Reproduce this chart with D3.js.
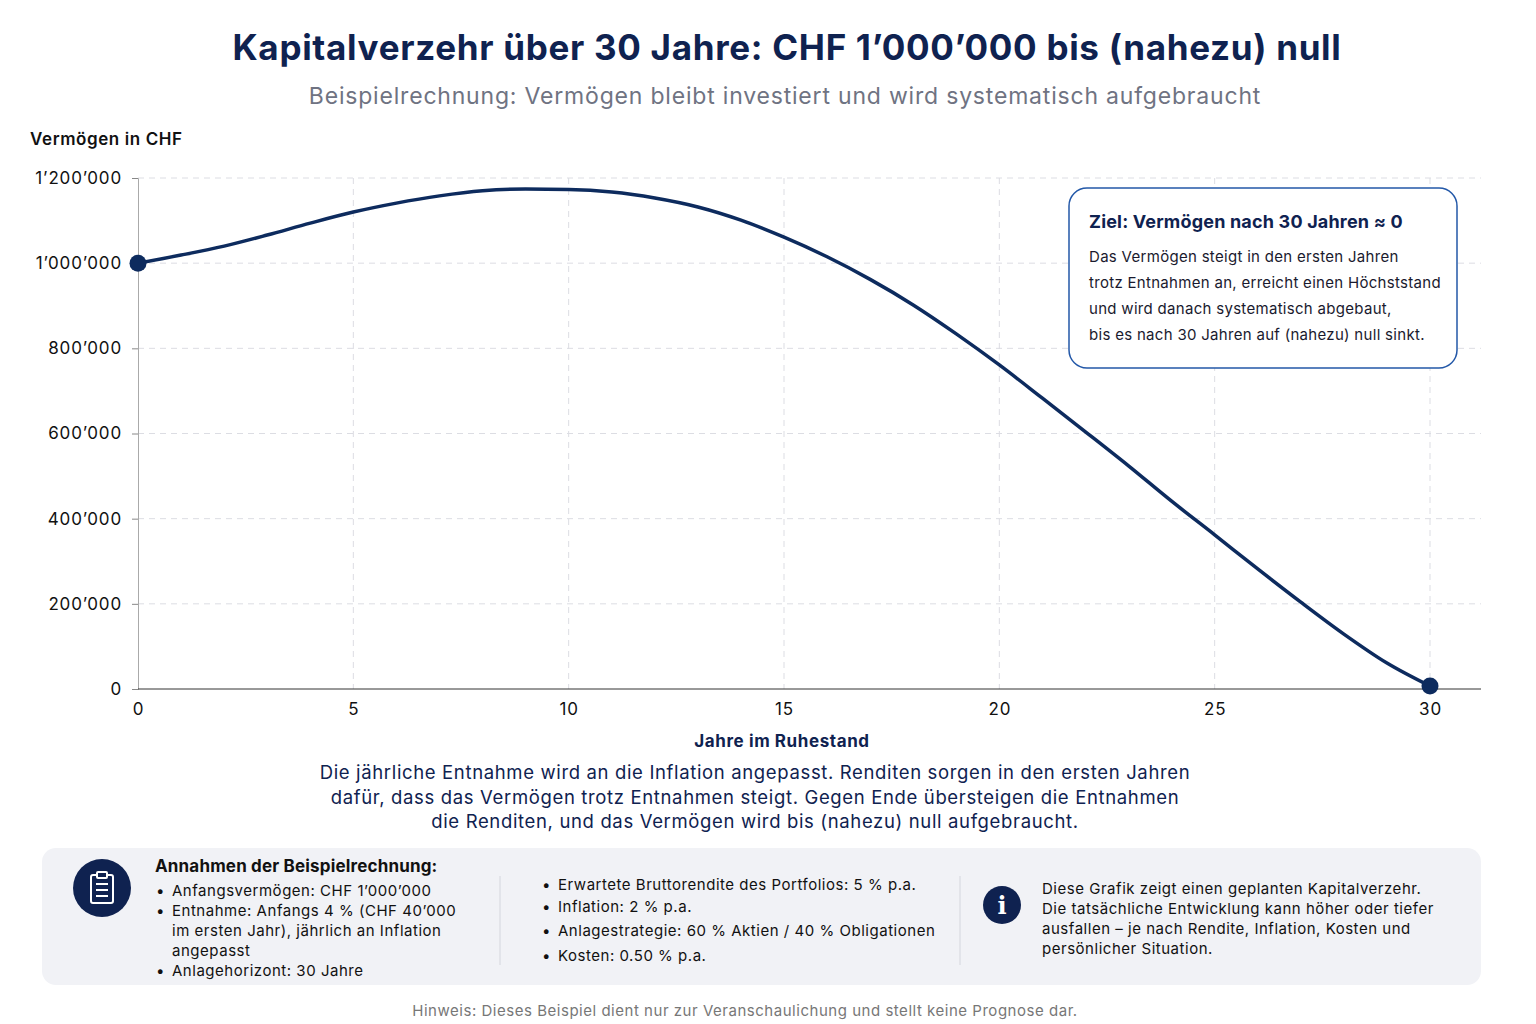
<!DOCTYPE html>
<meta charset="utf-8">
<style>
body { margin: 0; background: #fff; font-family: "Inter", "Lato", sans-serif; }
svg text { letter-spacing: 0.035em; }
.grid line { stroke: #dcdde3; stroke-dasharray: 6,5; }
.axis text { font-size: 17px; fill: #111; font-family: "Inter", sans-serif; letter-spacing: 0.05em; }
</style>
<body>
<script src="https://d3js.org/d3.v7.min.js"></script>
<script>
var years = d3.range(0, 31);
var wealth = [1000000,1019000,1040000,1066000,1094000,1120000,1141000,1158000,1170000,1174000,
  1173000,1167000,1153000,1132000,1101000,1061000,1015000,962000,902000,834000,
  761000,683000,604000,524000,441000,362000,282000,204000,129000,61000,7000];
var xTicks = [0, 5, 10, 15, 20, 25, 30];
var yTicks = [0, 200000, 400000, 600000, 800000, 1000000, 1200000];
var assumptions1 = ["Anfangsvermögen: CHF 1’000’000", ["Entnahme: Anfangs 4 % (CHF 40’000", "im ersten Jahr), jährlich an Inflation", "angepasst"], "Anlagehorizont: 30 Jahre"];
var assumptions2 = ["Erwartete Bruttorendite des Portfolios: 5 % p.a.", "Inflation: 2 % p.a.", "Anlagestrategie: 60 % Aktien / 40 % Obligationen", "Kosten: 0.50 % p.a."];

var W = 1536, H = 1024, navy = "#0f2250", line = "#0d2b5e";
var svg = d3.select("body").append("svg").attr("width", W).attr("height", H);
var fmt = function(v) { return v === 0 ? "0" : d3.format(",")(v).replace(/,/g, "’"); };

svg.append("text").attr("x", 787).attr("y", 60).attr("text-anchor", "middle")
  .attr("font-size", 35).attr("font-weight", 700).attr("fill", navy).style("letter-spacing", "0.02em")
  .text("Kapitalverzehr über 30 Jahre: CHF 1’000’000 bis (nahezu) null");
svg.append("text").attr("x", 785).attr("y", 104).attr("text-anchor", "middle")
  .attr("font-size", 23).attr("fill", "#6f7382")
  .text("Beispielrechnung: Vermögen bleibt investiert und wird systematisch aufgebraucht");
svg.append("text").attr("x", 30).attr("y", 145).attr("font-size", 17).attr("font-weight", 600).attr("fill", "#111")
  .text("Vermögen in CHF");

var x = d3.scaleLinear().domain([0, 30]).range([138, 1430]);
var y = d3.scaleLinear().domain([0, 1200000]).range([689, 178]);

svg.append("g").attr("class", "grid").selectAll("line").data(yTicks.slice(1)).enter().append("line")
  .attr("x1", 138).attr("x2", 1481).attr("y1", y).attr("y2", y);
svg.append("g").attr("class", "grid").selectAll("line").data(xTicks.slice(1)).enter().append("line")
  .attr("y1", 178).attr("y2", 689).attr("x1", x).attr("x2", x);

var ya = svg.append("g").attr("class", "axis").attr("transform", "translate(138,0)")
  .call(d3.axisLeft(y).tickValues(yTicks).tickFormat(fmt).tickSize(6).tickPadding(10));
ya.select(".domain").attr("stroke", "#aaa");
ya.selectAll(".tick line").attr("stroke", "#888");
var xa = svg.append("g").attr("class", "axis").attr("transform", "translate(0,689)")
  .call(d3.axisBottom(x).tickValues(xTicks).tickSize(0).tickPadding(14));
xa.select(".domain").remove();
svg.append("line").attr("x1", 138).attr("x2", 1481).attr("y1", 689).attr("y2", 689).attr("stroke", "#333");

svg.append("text").attr("x", 782).attr("y", 747).attr("text-anchor", "middle")
  .attr("font-size", 17).attr("font-weight", 700).attr("fill", navy).text("Jahre im Ruhestand");

svg.append("path").datum(years).attr("fill", "none").attr("stroke", line).attr("stroke-width", 3.5)
  .attr("d", d3.line().x(function(d) { return x(d); }).y(function(d) { return y(wealth[d]); }).curve(d3.curveMonotoneX));
svg.selectAll(".dot").data([0, 30]).enter().append("circle")
  .attr("cx", x).attr("cy", function(d) { return y(wealth[d]); }).attr("r", 8.5).attr("fill", line);

// annotation
svg.append("rect").attr("x", 1069).attr("y", 188).attr("width", 388).attr("height", 180).attr("rx", 18)
  .attr("fill", "#fff").attr("stroke", "#2358a8").attr("stroke-width", 1.5);
svg.append("text").attr("x", 1089).attr("y", 228).attr("font-size", 18).attr("font-weight", 700).attr("fill", navy)
  .style("letter-spacing", "0.01em").text("Ziel: Vermögen nach 30 Jahren ≈ 0");
["Das Vermögen steigt in den ersten Jahren", "trotz Entnahmen an, erreicht einen Höchststand",
 "und wird danach systematisch abgebaut,", "bis es nach 30 Jahren auf (nahezu) null sinkt."].forEach(function(t, i) {
  svg.append("text").attr("x", 1089).attr("y", 262 + i * 26).attr("font-size", 15).attr("fill", "#1a1a2e")
    .style("letter-spacing", "0.02em").text(t);
});

["Die jährliche Entnahme wird an die Inflation angepasst. Renditen sorgen in den ersten Jahren",
 "dafür, dass das Vermögen trotz Entnahmen steigt. Gegen Ende übersteigen die Entnahmen",
 "die Renditen, und das Vermögen wird bis (nahezu) null aufgebraucht."].forEach(function(t, i) {
  svg.append("text").attr("x", 755).attr("y", 779 + i * 24.5).attr("text-anchor", "middle")
    .attr("font-size", 18.5).attr("fill", navy).text(t);
});

// bottom panel
svg.append("rect").attr("x", 42).attr("y", 848).attr("width", 1439).attr("height", 137).attr("rx", 14).attr("fill", "#f1f2f6");
svg.append("line").attr("x1", 500).attr("x2", 500).attr("y1", 876).attr("y2", 965).attr("stroke", "#d4d6dd");
svg.append("line").attr("x1", 960).attr("x2", 960).attr("y1", 876).attr("y2", 965).attr("stroke", "#d4d6dd");

svg.append("circle").attr("cx", 102).attr("cy", 888).attr("r", 29).attr("fill", navy);
var cb = svg.append("g").attr("stroke", "#fff").attr("stroke-width", 2).attr("fill", "none");
cb.append("rect").attr("x", 91).attr("y", 875).attr("width", 22).attr("height", 28).attr("rx", 2);
cb.append("rect").attr("x", 97).attr("y", 872).attr("width", 10).attr("height", 6).attr("rx", 1).attr("fill", navy);
[884, 890, 896].forEach(function(yy) { cb.append("line").attr("x1", 96).attr("x2", 108).attr("y1", yy).attr("y2", yy); });

svg.append("text").attr("x", 155).attr("y", 872).attr("font-size", 17).attr("font-weight", 700).attr("fill", "#111")
  .style("letter-spacing", "0.01em").text("Annahmen der Beispielrechnung:");
var ly = 896;
assumptions1.forEach(function(a) {
  var lines = Array.isArray(a) ? a : [a];
  svg.append("text").attr("x", 156).attr("y", ly).attr("font-size", 15).attr("fill", "#111").text("•");
  lines.forEach(function(t) {
    svg.append("text").attr("x", 172).attr("y", ly).attr("font-size", 15).attr("fill", "#111").text(t);
    ly += 20;
  });
});
assumptions2.forEach(function(t, i) {
  var yy = [890, 912, 936, 961][i];
  svg.append("text").attr("x", 542).attr("y", yy).attr("font-size", 15).attr("fill", "#111").text("•");
  svg.append("text").attr("x", 558).attr("y", yy).attr("font-size", 15).attr("fill", "#111").text(t);
});

svg.append("circle").attr("cx", 1002).attr("cy", 905).attr("r", 19).attr("fill", navy);
svg.append("text").attr("x", 1002).attr("y", 914).attr("text-anchor", "middle").attr("font-size", 24)
  .attr("font-weight", 700).attr("font-family", "DejaVu Serif").attr("fill", "#fff").style("letter-spacing", "0").text("i");
["Diese Grafik zeigt einen geplanten Kapitalverzehr.", "Die tatsächliche Entwicklung kann höher oder tiefer",
 "ausfallen – je nach Rendite, Inflation, Kosten und", "persönlicher Situation."].forEach(function(t, i) {
  svg.append("text").attr("x", 1042).attr("y", 894 + i * 20).attr("font-size", 15).attr("fill", "#111").text(t);
});

svg.append("text").attr("x", 745).attr("y", 1016).attr("text-anchor", "middle").attr("font-size", 15).attr("fill", "#777")
  .text("Hinweis: Dieses Beispiel dient nur zur Veranschaulichung und stellt keine Prognose dar.");
</script>
</body>
